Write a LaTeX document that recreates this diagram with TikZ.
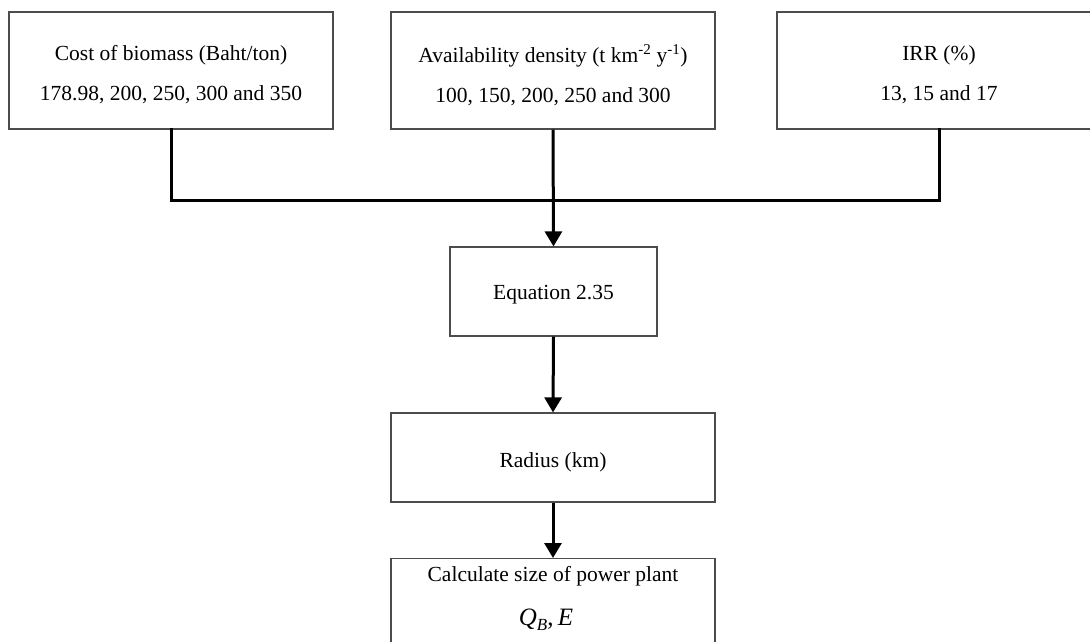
\documentclass[tikz,border=0pt]{standalone}
\usepackage{fontspec}
\setmainfont{Liberation Serif}
\usetikzlibrary{arrows.meta}
\begin{document}
\begin{tikzpicture}[x=1pt,y=-1pt,
  box/.style={draw=black!70,line width=1.2pt,rectangle,inner sep=0pt},
  txt/.style={inner sep=0pt,align=center,font=\fontsize{21.5}{40}\selectfont},
  link/.style={line width=3pt,line cap=rect},
  flow/.style={line width=3pt,-{Triangle[length=15pt,width=17pt]}}]
\useasboundingbox (0,0) rectangle (1090,641);
\clip (0,0) rectangle (1090,641);
% input parameter boxes
\node[box,minimum width=324pt,minimum height=117pt] (cost) at (171,70.5) {};
\node[box,minimum width=324pt,minimum height=117pt] (avail) at (553,70.5) {};
\node[box,minimum width=324pt,minimum height=117pt] (irr) at (939,70.5) {};
\node[txt] (costt) at (171,75) {Cost of biomass (Baht/ton)\\178.98, 200, 250, 300 and 350};
\node[txt] (availt) at (553,75) {Availability density (t km\textsuperscript{-2} y\textsuperscript{-1})\\100, 150, 200, 250 and 300};
\node[txt] (irrt) at (939,75) {IRR (\%)\\13, 15 and 17};
% processing chain
\node[box,minimum width=207pt,minimum height=89pt] (eq) at (553.5,291.5) {};
\node[txt] (eqt) at (553.5,295) {Equation 2.35};
\node[box,minimum width=324pt,minimum height=89pt] (rad) at (553,457.5) {};
\node[txt] (radt) at (553,462) {Radius (km)};
\node[box,minimum width=324pt,minimum height=120pt,anchor=north] (calc) at (553,558) {};
\node[txt] (calct) at (553,576) {Calculate size of power plant};
\node[txt,font=\fontsize{25}{26}\selectfont] (qbe) at (546,620)
  {\itshape Q\raisebox{-0.4ex}{\fontsize{17}{17}\selectfont B}\upshape,\,\itshape E};
% connectors
\coordinate (j) at (553,200);
\draw[link] (cost.south) -- (cost.south |- j) -- (irr.south |- j) -- (irr.south);
\draw[flow] (avail.south) -- (eq.north);
\draw[flow] (eq.south) -- (rad.north);
\draw[flow] (rad.south) -- (calc.north);
\end{tikzpicture}
\end{document}
